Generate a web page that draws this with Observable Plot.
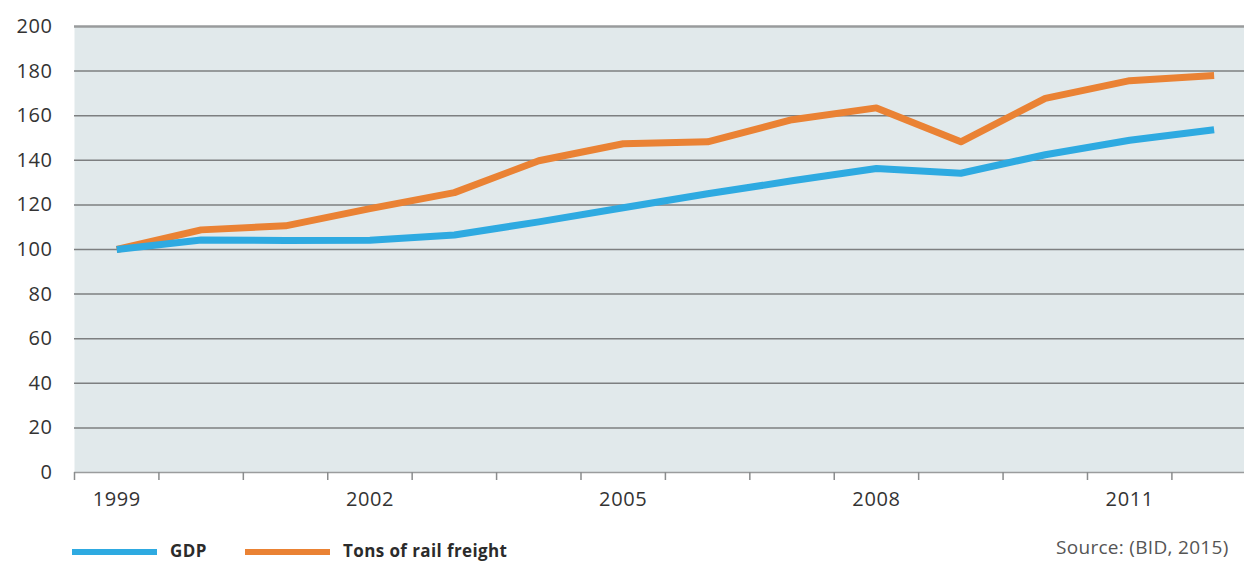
<!DOCTYPE html>
<html>
<head>
<meta charset="utf-8">
<script src="https://cdn.jsdelivr.net/npm/d3@7"></script>
<script src="https://cdn.jsdelivr.net/npm/@observablehq/plot@0.6"></script>
<style>
  html, body { margin: 0; padding: 0; background: #fff; }
  #wrap { position: relative; width: 1244px; height: 561px; overflow: hidden; font-family: "Open Sans", "Noto Sans", sans-serif; }
  #chart { position: absolute; left: 0; top: 0; }
  #legend { position: absolute; left: 0; top: 520px; width: 1244px; height: 41px; overflow: visible; }
</style>
</head>
<body>
<div id="wrap">
  <div id="chart"></div>
  <svg id="legend" width="1244" height="41"></svg>
</div>
<script>
const years = [1999, 2000, 2001, 2002, 2003, 2004, 2005, 2006, 2007, 2008, 2009, 2010, 2011, 2012];
const gdp = [100, 104.3, 104, 104.2, 106.5, 112.4, 118.7, 125, 130.8, 136.3, 134.2, 142.5, 149, 153.7];
const railFreight = [100, 108.8, 110.6, 118.3, 125.5, 139.8, 147.4, 148.3, 158.2, 163.5, 148.3, 167.8, 175.7, 178];
const seriesNames = ["GDP", "Tons of rail freight"];
const seriesColors = ["#2eaae1", "#ea8234"];
const yTicks = [0, 20, 40, 60, 80, 100, 120, 140, 160, 180, 200];
const xLabelYears = [1999, 2002, 2005, 2008, 2011];
const sourceText = "Source: (BID, 2015)";

const rows = [];
years.forEach((yr, i) => {
  rows.push({ year: yr, value: gdp[i], series: seriesNames[0] });
  rows.push({ year: yr, value: railFreight[i], series: seriesNames[1] });
});
const xTickEdges = years.map(y => y - 0.5);
const font = '"Open Sans", "Noto Sans", sans-serif';

const chart = Plot.plot({
  width: 1244,
  height: 520,
  marginLeft: 74,
  marginRight: 0,
  marginTop: 26,
  marginBottom: 48,
  x: { domain: [1998.5, 2012.36] },
  y: { domain: [0, 200] },
  color: { domain: seriesNames, range: seriesColors },
  style: { fontFamily: font, fontSize: "20px", letterSpacing: "0.6px", color: "#333", background: "transparent", overflow: "visible" },
  marks: [
    Plot.frame({ fill: "#e1e9eb", stroke: null }),
    Plot.ruleY(yTicks.filter(d => d > 0 && d < 200), { stroke: "#7d7f80", strokeWidth: 1.5 }),
    Plot.ruleY([200], { stroke: "#999b9c", strokeWidth: 2.5 }),
    Plot.ruleY([0], { stroke: "#9a9c9d", strokeWidth: 1.5 }),
    Plot.axisX(xTickEdges, { tickSize: 8, tickFormat: () => "", stroke: "#8a8c8d", strokeWidth: 1.5, label: null }),
    Plot.axisX(xLabelYears, { tickSize: 0, tickPadding: 19, tickFormat: d => String(d), label: null, fill: "#333" }),
    Plot.axisY(yTicks, { tickSize: 0, tickPadding: 22, tickFormat: d => String(d), label: null, fill: "#333" }),
    Plot.line(rows.filter(d => d.series === seriesNames[1]), { x: "year", y: "value", stroke: "series", strokeWidth: 7, strokeLinecap: "butt", strokeLinejoin: "round" }),
    Plot.line(rows.filter(d => d.series === seriesNames[0]), { x: "year", y: "value", stroke: "series", strokeWidth: 7, strokeLinecap: "butt", strokeLinejoin: "round" })
  ]
});
document.getElementById("chart").appendChild(chart);

// Legend below the chart
const leg = d3.select("#legend");
const swatchX = [72, 245];
const textX = [170, 343];
seriesNames.forEach((name, i) => {
  leg.append("rect").attr("x", swatchX[i]).attr("y", 29).attr("width", 85).attr("height", 6).attr("fill", seriesColors[i]);
  leg.append("text").attr("x", textX[i]).attr("y", 37).attr("font-family", font).attr("font-weight", 700)
    .attr("font-size", 17).attr("letter-spacing", "0.4px").attr("fill", "#2b2b2b").text(name);
});
leg.append("text").attr("x", 1056).attr("y", 34).attr("font-family", font).attr("font-size", 19)
  .attr("letter-spacing", "0.3px").attr("fill", "#555").text(sourceText);
</script>
</body>
</html>
